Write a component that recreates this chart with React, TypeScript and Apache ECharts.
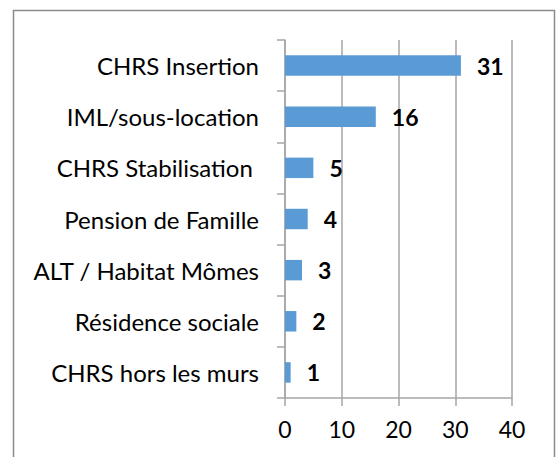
import React, { useEffect, useRef } from "react";
import * as echarts from "echarts";

const categories = [
  "CHRS hors les murs",
  "Résidence sociale",
  "ALT / Habitat Mômes",
  "Pension de Famille",
  "CHRS Stabilisation ",
  "IML/sous-location",
  "CHRS Insertion",
];
const values = [1, 2, 3, 4, 5, 16, 31];
const xTicks = [0, 10, 20, 30, 40];

const FONT = "Lato";

export default function App() {
  const ref = useRef<HTMLDivElement>(null);
  useEffect(() => {
    document.body.style.margin = "0";
    const chart = echarts.init(ref.current!, null, { renderer: "svg" });
    chart.setOption({
      animation: false,
      backgroundColor: "#ffffff",
      graphic: [
        {
          type: "rect",
          shape: { x: 13.5, y: 10.5, width: 541, height: 470 },
          style: { fill: "none", stroke: "#8c8c8c", lineWidth: 1.5 },
          silent: true,
        },
      ],
      grid: { left: 285, top: 40, width: 227, height: 358, containLabel: false },
      xAxis: {
        type: "value",
        min: xTicks[0],
        max: xTicks[xTicks.length - 1],
        interval: 10,
        axisLine: { show: true, lineStyle: { color: "#a6a6a6", width: 1.5 } },
        axisTick: { show: true, length: 8, lineStyle: { color: "#a6a6a6", width: 1.5 } },
        splitLine: { show: true, lineStyle: { color: "#a6a6a6", width: 1.5 } },
        axisLabel: { color: "#000", fontFamily: FONT, fontSize: 23, margin: 19 },
      },
      yAxis: {
        type: "category",
        data: categories,
        axisLine: { show: true, lineStyle: { color: "#a6a6a6", width: 1.5 } },
        axisTick: { show: true, length: 8, lineStyle: { color: "#a6a6a6", width: 1.5 } },
        axisLabel: { color: "#000", fontFamily: FONT, fontSize: 24, margin: 26 },
      },
      series: [
        {
          type: "bar",
          data: values,
          barCategoryGap: "60%",
          itemStyle: { color: "#5b9bd5" },
          label: {
            show: true,
            position: "right",
            distance: 16,
            color: "#000",
            fontFamily: FONT,
            fontWeight: "bold",
            fontSize: 23,
          },
        },
      ],
    });
    return () => chart.dispose();
  }, []);
  return <div ref={ref} style={{ width: 560, height: 457, position: "absolute", left: 0, top: 0 }} />;
}
